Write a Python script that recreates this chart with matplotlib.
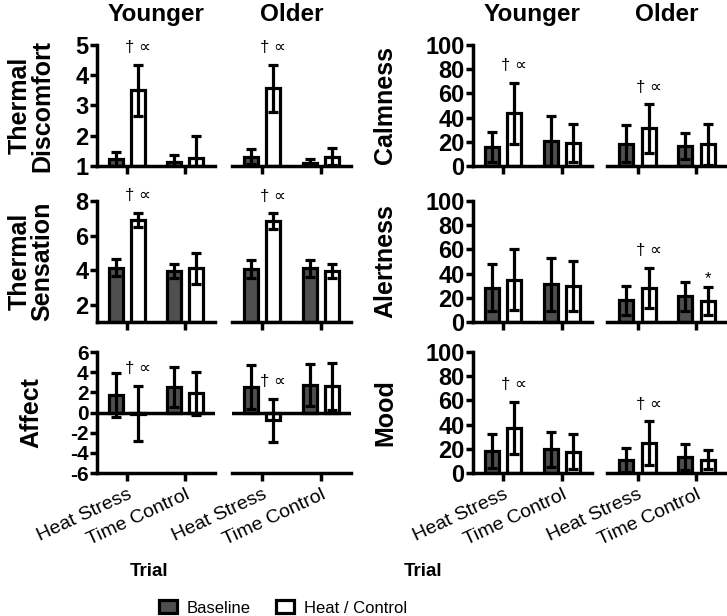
import matplotlib
matplotlib.use("Agg")
import matplotlib.pyplot as plt
from matplotlib.patches import Patch

plt.rcParams['font.family'] = ['Liberation Sans', 'DejaVu Sans']

groups = ["Younger", "Older"]
trials = ["Heat Stress", "Time Control"]
series = ["Baseline", "Heat / Control"]

# order in every list: Younger HS, Younger TC, Older HS, Older TC
disc_base = [1.23, 1.13, 1.30, 1.10]
disc_base_sd = [0.24, 0.22, 0.25, 0.12]
disc_heat = [3.50, 1.25, 3.57, 1.30]
disc_heat_sd = [0.85, 0.75, 0.78, 0.28]
disc_marks = ["† ∝", "", "† ∝", ""]

sens_base = [4.15, 3.95, 4.05, 4.10]
sens_base_sd = [0.48, 0.38, 0.52, 0.50]
sens_heat = [6.90, 4.10, 6.85, 3.95]
sens_heat_sd = [0.43, 0.90, 0.47, 0.42]
sens_marks = ["† ∝", "", "† ∝", ""]

affect_base = [1.75, 2.55, 2.50, 2.75]
affect_base_sd = [2.20, 2.00, 2.20, 2.07]
affect_heat = [-0.10, 1.90, -0.75, 2.60]
affect_heat_sd = [2.77, 2.15, 2.13, 2.35]
affect_marks = ["† ∝", "", "† ∝", ""]

calm_base = [16.0, 20.7, 18.4, 16.5]
calm_base_sd = [12.5, 20.6, 15.5, 11.0]
calm_heat = [43.5, 19.0, 31.0, 18.0]
calm_heat_sd = [25.5, 16.0, 20.5, 17.0]
calm_marks = ["† ∝", "", "† ∝", ""]

alert_base = [28.4, 31.2, 18.0, 21.2]
alert_base_sd = [19.5, 22.0, 12.0, 12.0]
alert_heat = [35.0, 29.8, 28.4, 17.4]
alert_heat_sd = [25.0, 20.6, 16.6, 11.6]
alert_marks = ["", "", "† ∝", "*"]

mood_base = [18.0, 19.5, 11.0, 13.3]
mood_base_sd = [14.0, 14.5, 10.0, 11.0]
mood_heat = [37.5, 17.5, 25.0, 11.0]
mood_heat_sd = [21.5, 14.5, 18.0, 8.0]
mood_marks = ["† ∝", "", "† ∝", ""]

W, H = 727, 616
fig = plt.figure(figsize=(W / 100, H / 100), dpi=100)


def box(x0, x1, ytop, ybot):
    return [x0 / W, 1 - ybot / H, (x1 - x0) / W, (ybot - ytop) / H]


rows_px = [(45, 166), (201, 322), (352, 473)]
cols_px = [[(97, 215), (232, 351)], [(473, 592), (607, 727)]]
ylabel_x = [31, 385]
trial_x = [149, 423]

panels = [
    [("Thermal\nDiscomfort", disc_base, disc_base_sd, disc_heat, disc_heat_sd, disc_marks, (1, 5), [1, 2, 3, 4, 5]),
     ("Thermal\nSensation", sens_base, sens_base_sd, sens_heat, sens_heat_sd, sens_marks, (1, 8), [2, 4, 6, 8]),
     ("Affect", affect_base, affect_base_sd, affect_heat, affect_heat_sd, affect_marks, (-6, 6), list(range(-6, 7, 2)))],
    [("Calmness", calm_base, calm_base_sd, calm_heat, calm_heat_sd, calm_marks, (0, 100), list(range(0, 101, 20))),
     ("Alertness", alert_base, alert_base_sd, alert_heat, alert_heat_sd, alert_marks, (0, 100), list(range(0, 101, 20))),
     ("Mood", mood_base, mood_base_sd, mood_heat, mood_heat_sd, mood_marks, (0, 100), list(range(0, 101, 20)))],
]

dark = '#4f4f4f'
lw = 2.3
spw = 2.5
off = 0.19
bw = 0.24

for c, col in enumerate(panels):
    for r, (label, base, base_sd, heat, heat_sd, marks, ylim, yticks) in enumerate(col):
        ytop, ybot = rows_px[r]
        for g in range(2):
            x0, x1 = cols_px[c][g]
            ax = fig.add_axes(box(x0, x1, ytop, ybot))
            floor = max(ylim[0], 0)
            xs = [0, 1]
            b = base[2 * g:2 * g + 2]
            bsd = base_sd[2 * g:2 * g + 2]
            h = heat[2 * g:2 * g + 2]
            hsd = heat_sd[2 * g:2 * g + 2]
            mk = marks[2 * g:2 * g + 2]
            xb = [x - off for x in xs]
            xh = [x + off for x in xs]
            ax.bar(xb, [v - floor for v in b], bw, bottom=floor, color=dark,
                   edgecolor='k', linewidth=lw, zorder=2)
            ax.bar(xh, [v - floor for v in h], bw, bottom=floor, color='white',
                   edgecolor='k', linewidth=lw, zorder=2)
            ax.errorbar(xb, b, yerr=bsd, fmt='none', ecolor='k', elinewidth=lw,
                        capsize=3.8, capthick=lw, zorder=3)
            ax.errorbar(xh, h, yerr=hsd, fmt='none', ecolor='k', elinewidth=lw,
                        capsize=3.8, capthick=lw, zorder=3)
            for x, v, s, m in zip(xh, h, hsd, mk):
                if m:
                    ax.annotate(m, (x, v + s), xytext=(0, 12 if m != "*" else 6),
                                textcoords='offset points', ha='center', va='center',
                                fontsize=12, annotation_clip=False)
            if ylim[0] < 0:
                ax.axhline(0, color='k', linewidth=spw, zorder=4)
            ax.set_xlim(-0.52, 1.52)
            ax.set_ylim(*ylim)
            for s in ['top', 'right']:
                ax.spines[s].set_visible(False)
            ax.spines['bottom'].set_linewidth(spw)
            ax.spines['left'].set_linewidth(spw)
            ax.set_xticks(xs)
            ax.tick_params(axis='x', direction='out', length=5.5, width=spw, pad=4)
            if r == 2:
                ax.set_xticklabels(trials, rotation=25, ha='right', va='top',
                                   rotation_mode='anchor', fontsize=14)
            else:
                ax.set_xticklabels([])
            if g == 0:
                ax.set_yticks(yticks)
                tsize = 17 if ylim[0] >= 0 else 15
                ax.set_yticklabels([str(t) for t in yticks], fontsize=tsize,
                                   fontweight='bold')
                ax.tick_params(axis='y', direction='out', length=5, width=spw, pad=1)
            else:
                ax.spines['left'].set_visible(False)
                ax.set_yticks([])
            if r == 0:
                ax.set_title(groups[g], fontsize=17.5, fontweight='bold', pad=17)
        fig.text(ylabel_x[c] / W, 1 - (ytop + ybot) / 2 / H, label, rotation=90,
                 ha='center', va='center', multialignment='center',
                 fontsize=18, fontweight='bold', linespacing=0.95)
    fig.text(trial_x[c] / W, 1 - 572 / H, "Trial", ha='center', va='center',
             fontsize=13.5, fontweight='bold')

handles = [Patch(facecolor=dark, edgecolor='k', linewidth=lw),
           Patch(facecolor='white', edgecolor='k', linewidth=lw)]
fig.legend(handles, series, loc='center', bbox_to_anchor=(283 / W, 1 - 608 / H),
           ncol=2, frameon=False, handlelength=1.1, handleheight=0.8,
           handletextpad=0.6, columnspacing=1.5, fontsize=12)

fig.savefig("out.png", dpi=100)
